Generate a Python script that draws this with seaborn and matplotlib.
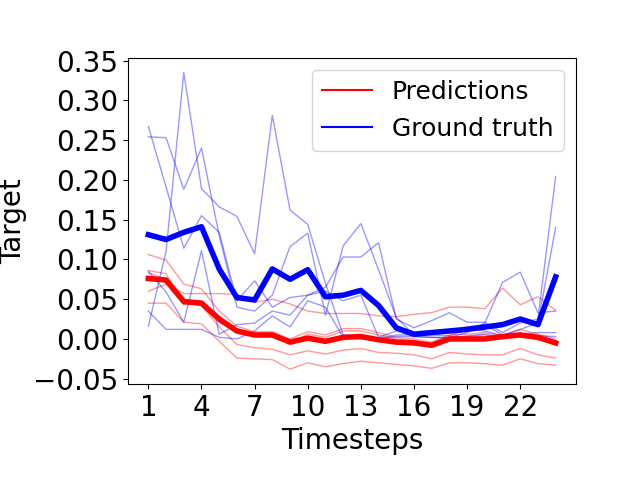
import numpy as np
import pandas as pd
import matplotlib
matplotlib.use("Agg")
import matplotlib.pyplot as plt
import seaborn as sns
from matplotlib.lines import Line2D
from matplotlib.ticker import MultipleLocator

timesteps = list(range(1, 25))

# ground truth samples (thin blue)
gt_1 = [0.267, 0.191, 0.114, 0.155, 0.134, 0.048, 0.073, 0.040, 0.052, 0.055, 0.065, 0.103,
        0.103, 0.121, 0.025, 0.014, 0.023, 0.033, 0.021, 0.021, 0.008, 0.020, 0.025, 0.204]
gt_2 = [0.254, 0.253, 0.188, 0.240, 0.130, 0.040, 0.035, 0.055, 0.116, 0.133, 0.030, 0.117,
        0.145, 0.087, 0.027, 0.005, 0.008, 0.010, 0.015, 0.018, 0.005, 0.012, 0.020, 0.140]
gt_3 = [0.016, 0.110, 0.335, 0.189, 0.166, 0.154, 0.107, 0.281, 0.162, 0.144, 0.070, 0.005,
        0.002, 0.000, 0.005, 0.005, 0.005, 0.004, 0.012, 0.010, 0.004, 0.006, 0.008, 0.008]
gt_4 = [0.085, 0.059, 0.021, 0.111, 0.006, 0.018, 0.020, 0.035, 0.030, 0.055, 0.060, 0.048,
        0.055, 0.002, 0.010, 0.003, 0.002, 0.002, 0.008, 0.020, 0.071, 0.084, 0.033, 0.035]
gt_5 = [0.035, 0.012, 0.012, 0.012, 0.002, 0.000, 0.010, 0.029, 0.015, 0.048, 0.040, 0.002,
        0.000, 0.000, 0.003, 0.003, 0.002, 0.001, 0.004, 0.006, 0.002, 0.003, 0.004, 0.003]
gt_mean = [0.131, 0.125, 0.134, 0.141, 0.088, 0.052, 0.049, 0.088, 0.075, 0.087, 0.053, 0.055,
           0.061, 0.042, 0.014, 0.006, 0.008, 0.010, 0.012, 0.015, 0.018, 0.025, 0.018, 0.078]

# predictions (thin red)
pred_1 = [0.060, 0.069, 0.057, 0.057, 0.057, 0.056, 0.046, 0.050, 0.044, 0.035, 0.032, 0.032,
          0.032, 0.029, 0.028, 0.031, 0.033, 0.040, 0.040, 0.038, 0.064, 0.043, 0.053, 0.036]
pred_2 = [0.106, 0.099, 0.069, 0.063, 0.035, 0.016, 0.009, 0.009, 0.000, 0.009, 0.005, 0.013,
          0.013, 0.008, 0.002, 0.000, -0.004, 0.005, 0.006, 0.008, 0.004, 0.012, 0.006, 0.000]
pred_3 = [0.086, 0.082, 0.043, 0.044, 0.021, 0.009, 0.006, 0.005, -0.006, 0.006, 0.002, 0.010,
          0.010, 0.005, 0.000, -0.002, -0.007, 0.002, 0.003, 0.005, 0.000, 0.007, 0.002, -0.004]
pred_4 = [0.083, 0.075, 0.045, 0.042, 0.015, -0.007, -0.011, -0.013, -0.020, -0.015, -0.019, -0.014,
          -0.012, -0.017, -0.018, -0.020, -0.025, -0.017, -0.019, -0.020, -0.020, -0.012, -0.020, -0.024]
pred_5 = [0.045, 0.045, 0.021, 0.019, -0.003, -0.024, -0.025, -0.026, -0.038, -0.030, -0.035, -0.031,
          -0.028, -0.030, -0.032, -0.034, -0.037, -0.030, -0.030, -0.031, -0.033, -0.025, -0.031, -0.033]
pred_mean = [0.076, 0.074, 0.047, 0.045, 0.025, 0.010, 0.005, 0.005, -0.004, 0.001, -0.003, 0.002,
             0.003, -0.001, -0.004, -0.005, -0.008, 0.000, 0.000, 0.000, 0.003, 0.005, 0.002, -0.005]

plt.rcParams['font.size'] = 20

fig, ax = plt.subplots(figsize=(6.4, 4.8), dpi=100)

for s in [pred_1, pred_2, pred_3, pred_4, pred_5]:
    sns.lineplot(x=timesteps, y=s, color='red', alpha=0.4, linewidth=1, ax=ax)
for s in [gt_1, gt_2, gt_3, gt_4, gt_5]:
    sns.lineplot(x=timesteps, y=s, color='blue', alpha=0.4, linewidth=1, ax=ax)
sns.lineplot(x=timesteps, y=pred_mean, color='red', linewidth=4, ax=ax)
sns.lineplot(x=timesteps, y=gt_mean, color='blue', linewidth=4, ax=ax)

ax.set_xticks(range(1, 25, 3))
ax.yaxis.set_major_locator(MultipleLocator(0.05))
ax.set_xlabel("Timesteps")
ax.set_ylabel("Target")

handles = [Line2D([0], [0], color='red', lw=1.5), Line2D([0], [0], color='blue', lw=1.5)]
ax.legend(handles, ["Predictions", "Ground truth"], loc='upper right', fontsize=18)

plt.subplots_adjust(left=0.2, bottom=0.2)
plt.savefig("out.png")
